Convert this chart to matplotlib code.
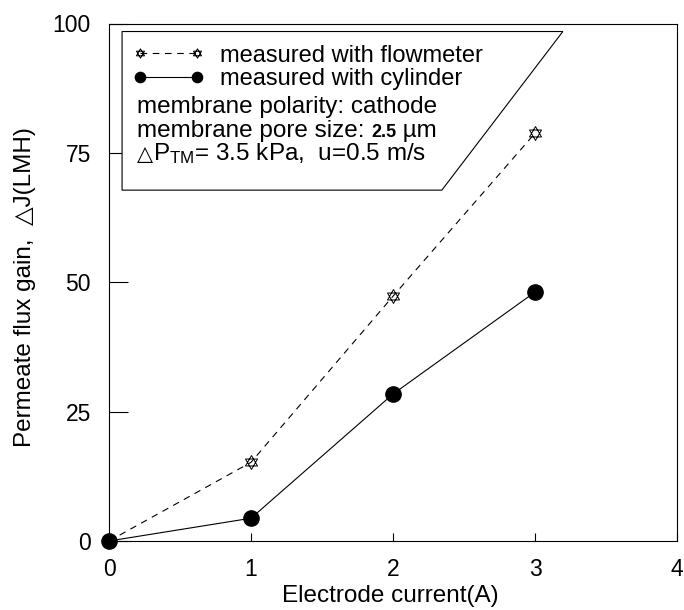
import numpy as np
import matplotlib
matplotlib.use("Agg")
import matplotlib.pyplot as plt
from matplotlib.path import Path
from matplotlib.patches import Polygon
from matplotlib.transforms import offset_copy

plt.rcParams['font.family'] = ['Liberation Sans', 'DejaVu Sans']

# Données : gain de flux vs courant d'électrode
courant = [0, 1, 2, 3]
flux_debitmetre = [0, 15.2, 47.3, 78.8]
flux_cylindre = [0, 4.4, 28.4, 48.1]

x_ticks = [0, 1, 2, 3, 4]
y_ticks = [0, 25, 50, 75, 100]

# Marqueur étoile à six branches (deux triangles superposés)
ang_h = np.deg2rad([90, 210, 330])
ang_b = np.deg2rad([270, 30, 150])
verts = np.vstack([np.c_[np.cos(ang_h), np.sin(ang_h)], [[0, 0]],
                   np.c_[np.cos(ang_b), np.sin(ang_b)], [[0, 0]]])
codes = [Path.MOVETO, Path.LINETO, Path.LINETO, Path.CLOSEPOLY] * 2
etoile = Path(verts, codes)

fig = plt.figure(figsize=(6.84, 6.10), dpi=100)
ax = fig.add_axes([109 / 684, 1 - 541 / 610, 568 / 684, 517.5 / 610])

ax.plot(courant, flux_debitmetre, color="black", linestyle=(0, (6, 5)), linewidth=0.8,
        marker=etoile, markersize=10, markerfacecolor="none",
        markeredgecolor="black", markeredgewidth=0.7,
        label="measured with flowmeter", zorder=3, clip_on=False)
ax.plot(courant, flux_cylindre, color="black", linestyle="-", linewidth=0.8,
        marker="o", markersize=11, markerfacecolor="black",
        markeredgecolor="black", label="measured with cylinder", zorder=3,
        clip_on=False)

ax.set_xlim(0, 4)
ax.set_ylim(0, 100)
ax.set_xticks(x_ticks)
ax.set_yticks(y_ticks)
ax.tick_params(axis="x", direction="in", length=6, width=0.8, pad=12, labelsize=16.5)
ax.tick_params(axis="y", direction="in", length=14, width=0.8, pad=13, labelsize=16.5)
for s in ax.spines.values():
    s.set_linewidth(0.8)

ax.set_xlabel("Electrode current(A)", fontsize=17.5)
ax.set_ylabel("Permeate flux gain,  \u25b3J(LMH)", fontsize=17.5)
ax.xaxis.set_label_coords(0.495, -0.085)
ax.yaxis.set_label_coords(-0.128, 0.49)

# Cadre de légende en trapèze
cadre = Polygon([[0.023, 0.9845], [0.799, 0.9845], [0.586, 0.678], [0.023, 0.678]],
                closed=True, transform=ax.transAxes, facecolor="white",
                edgecolor="black", linewidth=0.8, zorder=4)
ax.add_patch(cadre)

leg = ax.legend(loc="upper left", bbox_to_anchor=(0.042, 0.959), frameon=False,
                fontsize=17, numpoints=2, handlelength=3.0, handletextpad=0.7,
                labelspacing=0.05, borderpad=0, borderaxespad=0, markerscale=0.67)
leg.set_zorder(5)


def texte_suite(x, y, morceaux):
    # écrit plusieurs morceaux de texte à la suite sur une même ligne de base
    rend = fig.canvas.get_renderer()
    dx = 0
    for s, kw in morceaux:
        tr = offset_copy(ax.transAxes, fig=fig, x=dx, units="dots")
        t = ax.text(x, y, s, transform=tr, va="baseline", ha="left", zorder=6, **kw)
        dx += t.get_window_extent(rend).width


ax.text(0.049, 0.827, "membrane polarity: cathode", transform=ax.transAxes,
        fontsize=17.5, va="baseline", zorder=6)
texte_suite(0.049, 0.7807, [("membrane pore size: ", dict(fontsize=17.5)),
                            ("2.5", dict(fontsize=13, fontweight="bold")),
                            (" \u00b5m", dict(fontsize=17.5))])
texte_suite(0.049, 0.736, [("\u25b3", dict(fontsize=15, family="DejaVu Sans")),
                           ("$\\mathregular{P_{TM}}$= 3.5 kPa,  u=0.5 m/s", dict(fontsize=17.5))])

plt.savefig("out.png", dpi=100)
